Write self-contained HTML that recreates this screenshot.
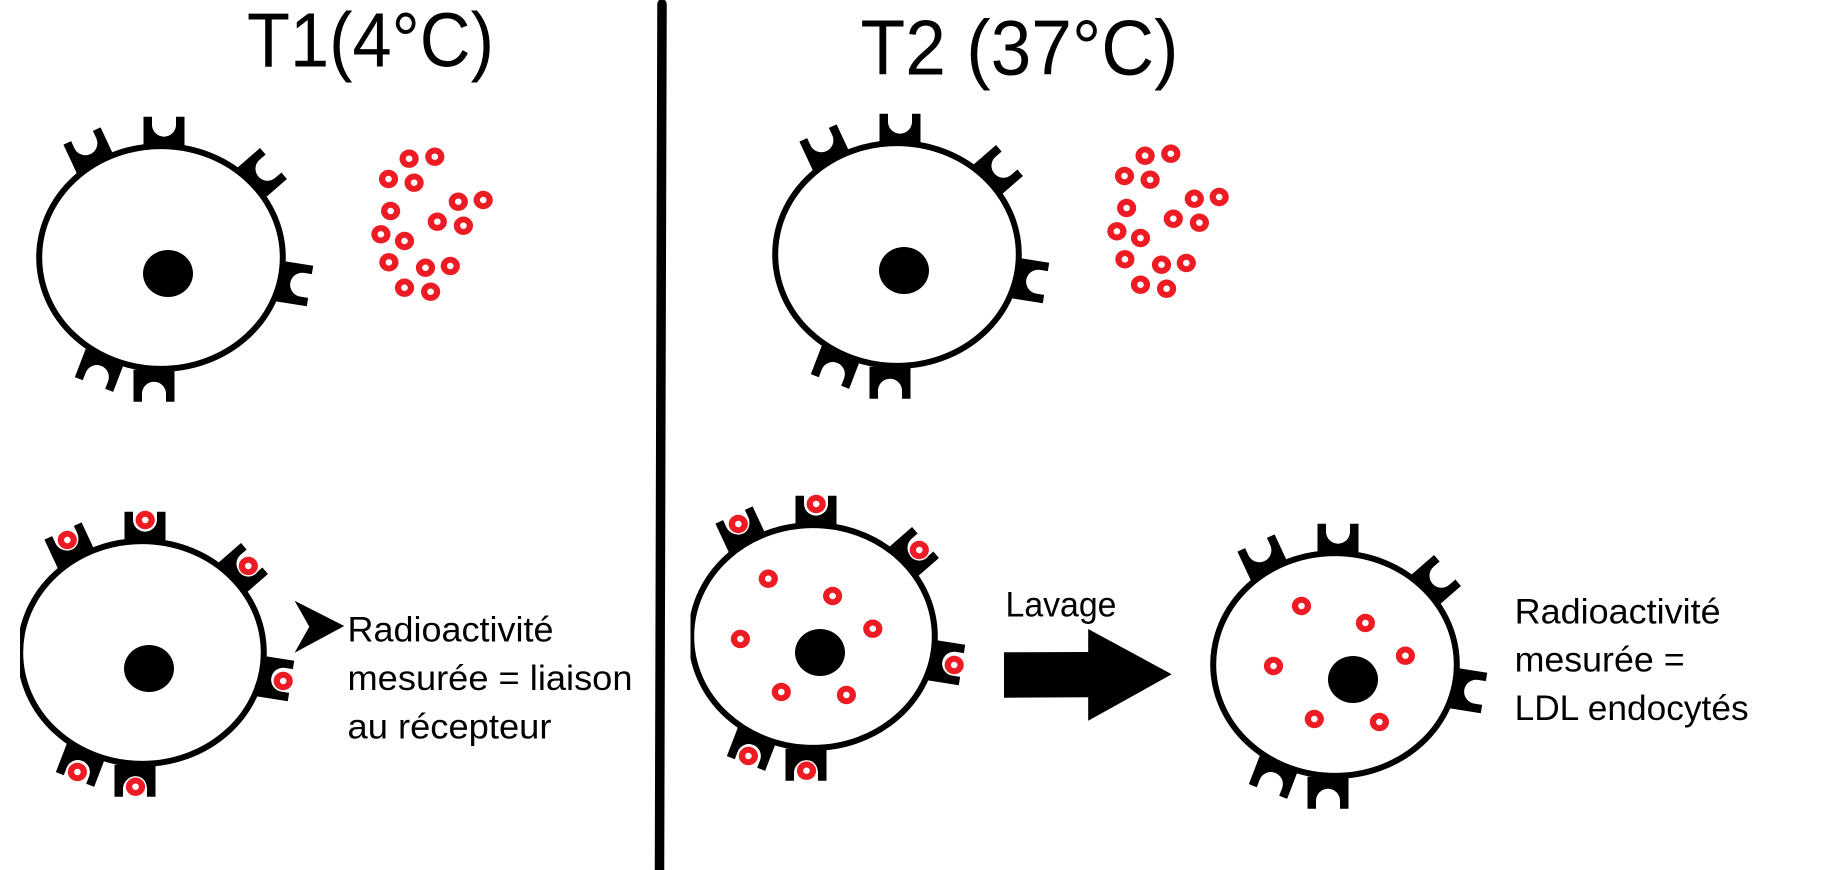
<!DOCTYPE html>
<html><head><meta charset="utf-8"><style>
html,body{margin:0;padding:0;background:#fff}
svg{display:block}
text{font-family:"Liberation Sans","Noto Sans CJK JP",sans-serif;fill:#000}
</style></head><body>
<svg width="1826" height="870" viewBox="0 0 1826 870" xmlns="http://www.w3.org/2000/svg">
<defs>
<path id="r" d="M-20.5,0 L-12,0 L-12,8 A12,12 0 0 0 12,8 L12,0 L20.5,0 L20.5,32 L-20.5,32 Z" fill="#000"/>
<g id="cell">
<use href="#r" transform="translate(164,116.7)"/>
<use href="#r" transform="translate(82,136) rotate(-25)"/>
<use href="#r" transform="translate(273.5,163.5) rotate(49)"/>
<use href="#r" transform="translate(310,286) rotate(99)"/>
<use href="#r" transform="translate(94,384.5) rotate(201)"/>
<use href="#r" transform="translate(154,401.7) rotate(180)"/>
<ellipse cx="161" cy="257.5" rx="121.8" ry="111.4" fill="#fff" stroke="#000" stroke-width="6"/>
</g>
<g id="d"><ellipse rx="9.6" ry="9.2" fill="#ed1c24"/><ellipse rx="3.3" ry="3.2" fill="#fff"/></g>
<g id="b"><ellipse rx="11" ry="10.6" fill="#fff"/><ellipse rx="9.6" ry="9.2" fill="#ed1c24"/><ellipse rx="3.3" ry="3.2" fill="#fff"/></g>
<g id="cloud">
<use href="#d" x="409.1" y="158.7"/><use href="#d" x="434.8" y="156.7"/>
<use href="#d" x="388.5" y="179"/><use href="#d" x="414.1" y="182.7"/>
<use href="#d" x="458.3" y="201.7"/><use href="#d" x="483.2" y="200"/>
<use href="#d" x="390.6" y="211"/><use href="#d" x="437.3" y="221.7"/>
<use href="#d" x="463.4" y="225.7"/><use href="#d" x="380.9" y="234.3"/>
<use href="#d" x="404.5" y="241"/><use href="#d" x="388.9" y="262.3"/>
<use href="#d" x="425.5" y="267.7"/><use href="#d" x="450.3" y="266"/>
<use href="#d" x="404.5" y="287.7"/><use href="#d" x="430.6" y="291.7"/>
</g>
<g id="bound">
<use href="#b" x="67.3" y="540"/><use href="#b" x="145.2" y="520"/>
<use href="#b" x="248.3" y="566"/><use href="#b" x="283.2" y="681"/>
<use href="#b" x="77.4" y="772"/><use href="#b" x="135.5" y="786.7"/>
</g>
</defs>

<rect width="1826" height="870" fill="#fff"/>

<!-- Divider -->
<path d="M662,4 L659.5,870" stroke="#000" stroke-width="9.5" stroke-linecap="round" fill="none"/>

<!-- Titles -->
<text x="247" y="66.7" font-size="77" textLength="247" lengthAdjust="spacingAndGlyphs">T1(4°C)</text>
<text x="860.5" y="74.3" font-size="78" textLength="318" lengthAdjust="spacingAndGlyphs">T2 (37°C)</text>

<!-- T1 top -->
<use href="#cell"/>
<ellipse cx="168" cy="273.5" rx="25" ry="23.5"/>
<use href="#cloud"/>

<!-- T2 top -->
<g transform="translate(736,-3)">
<use href="#cell"/>
<ellipse cx="168" cy="273.5" rx="25" ry="23.5"/>
<use href="#cloud"/>
</g>

<!-- T1 bottom -->
<g transform="translate(-19,395)">
<use href="#cell"/>
<ellipse cx="168" cy="273.5" rx="25" ry="23.5"/>
</g>
<rect x="0" y="500" width="20" height="300" fill="#fff"/>
<use href="#bound"/>
<polygon points="294.6,600.7 344.3,626 294.6,652.7 309.3,626.7" fill="#000"/>
<text x="347.5" y="641.7" font-size="35" textLength="206" lengthAdjust="spacingAndGlyphs">Radioactivité</text>
<text x="347.5" y="690" font-size="35" textLength="285" lengthAdjust="spacingAndGlyphs">mesurée = liaison</text>
<text x="347.5" y="738.3" font-size="35" textLength="204" lengthAdjust="spacingAndGlyphs">au récepteur</text>

<!-- T2 bottom left -->
<g transform="translate(652,379)">
<use href="#cell"/>
<ellipse cx="168" cy="273.5" rx="25" ry="23.5"/>
</g>
<rect x="668" y="600" width="22.5" height="80" fill="#fff"/>
<g transform="translate(671,-16)"><use href="#bound"/></g>
<use href="#d" x="768.3" y="578.7"/><use href="#d" x="832.6" y="596"/>
<use href="#d" x="872.8" y="628.7"/><use href="#d" x="740.4" y="639"/>
<use href="#d" x="781.3" y="692"/><use href="#d" x="846.4" y="695"/>

<!-- Wash arrow -->
<text x="1005.5" y="616.7" font-size="35" textLength="111" lengthAdjust="spacingAndGlyphs">Lavage</text>
<polygon points="1004,652.3 1088.2,652 1088.2,629 1171.7,674.3 1088.2,720.7 1088.2,697.3 1004,697.7" fill="#000"/>

<!-- T2 bottom right -->
<g transform="translate(1174,407)">
<use href="#cell"/>
</g>
<ellipse cx="1353" cy="679.5" rx="25" ry="23.5"/>
<use href="#d" x="1301.5" y="606"/><use href="#d" x="1365.4" y="623"/>
<use href="#d" x="1405.4" y="655.7"/><use href="#d" x="1273.5" y="666"/>
<use href="#d" x="1314.3" y="719"/><use href="#d" x="1379.4" y="722"/>
<text x="1514.6" y="623.3" font-size="35" textLength="206" lengthAdjust="spacingAndGlyphs">Radioactivité</text>
<text x="1514.6" y="671.7" font-size="35" textLength="170" lengthAdjust="spacingAndGlyphs">mesurée =</text>
<text x="1514.6" y="720" font-size="35" textLength="234" lengthAdjust="spacingAndGlyphs">LDL endocytés</text>
</svg>
</body></html>
